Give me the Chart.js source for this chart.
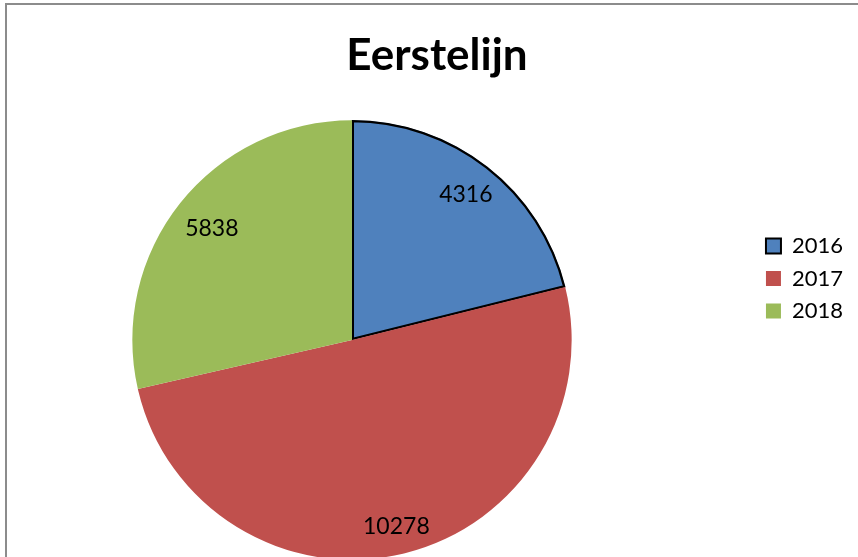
<!DOCTYPE html>
<html><head><meta charset="utf-8">
<script src="https://cdn.jsdelivr.net/npm/chart.js@4"></script>
<style>
html,body{margin:0;padding:0;background:#fff;overflow:hidden;width:858px;height:557px;}
#wrap{position:relative;width:858px;height:557px;overflow:hidden;}
#frame{position:absolute;left:5px;top:3px;width:1000px;height:1000px;border:2px solid #8c8c8c;pointer-events:none;}
canvas{position:absolute;left:0;top:0;}
</style></head><body>
<div id="wrap"><canvas id="c" width="858" height="557"></canvas><div id="frame"></div></div>
<script>
const chartTitle = 'Eerstelijn';
const categories = ['2016', '2017', '2018'];
const values = [4316, 10278, 5838];
const sliceColors = ['#4F81BD', '#C0504D', '#9BBB59'];

// Excel-style fixed plot area (the pie's bounding box)
const plotArea = {
  id: 'plotArea',
  afterLayout(chart, args, opts) {
    const a = chart.chartArea;
    a.left = opts.left; a.top = opts.top; a.right = opts.right; a.bottom = opts.bottom;
    a.width = a.right - a.left; a.height = a.bottom - a.top;
  }
};

const sliceLabels = {
  id: 'sliceLabels',
  afterDatasetsDraw(chart, args, opts) {
    const ctx = chart.ctx;
    const meta = chart.getDatasetMeta(0);
    const data = chart.data.datasets[0].data;
    ctx.save();
    ctx.font = opts.font;
    ctx.fillStyle = opts.color;
    ctx.textAlign = 'center';
    ctx.textBaseline = 'middle';
    meta.data.forEach((arc, i) => {
      const p = arc.getProps(['x', 'y', 'startAngle', 'endAngle', 'outerRadius'], true);
      const mid = (p.startAngle + p.endAngle) / 2;
      const r = p.outerRadius * opts.radial[i];
      ctx.fillText(String(data[i]), p.x + Math.cos(mid) * r, p.y + Math.sin(mid) * r);
    });
    ctx.restore();
  }
};

function draw() {
  new Chart(document.getElementById('c'), {
    type: 'pie',
    data: {
      labels: categories,
      datasets: [{
        data: values,
        backgroundColor: sliceColors,
        borderColor: ['#000000', 'rgba(0,0,0,0)', 'rgba(0,0,0,0)'],
        borderWidth: [2, 0, 0],
        borderAlign: 'inner',
        clip: false
      }]
    },
    plugins: [plotArea, sliceLabels],
    options: {
      responsive: false,
      devicePixelRatio: 1,
      animation: false,
      events: [],
      layout: { padding: { left: 21, right: 5, top: 0, bottom: 0 } },
      plugins: {
        plotArea: { left: 132, top: 120, right: 572, bottom: 560 },
        sliceLabels: { font: '23px Lato', color: '#000', radial: [0.84, 0.87, 0.815] },
        tooltip: { enabled: false },
        title: {
          display: true,
          text: chartTitle,
          color: '#000',
          font: { family: 'Lato', size: 44, weight: 'bold' },
          padding: { top: 29, bottom: 40 }
        },
        legend: {
          position: 'right',
          labels: {
            color: '#000',
            font: { family: 'Lato', size: 22 },
            boxWidth: 15,
            boxHeight: 15,
            padding: 10.5
          }
        }
      }
    }
  });
}
Promise.all([
  document.fonts.load('bold 44px Lato'),
  document.fonts.load('22px Lato')
]).then(draw, draw);
</script>
</body></html>
